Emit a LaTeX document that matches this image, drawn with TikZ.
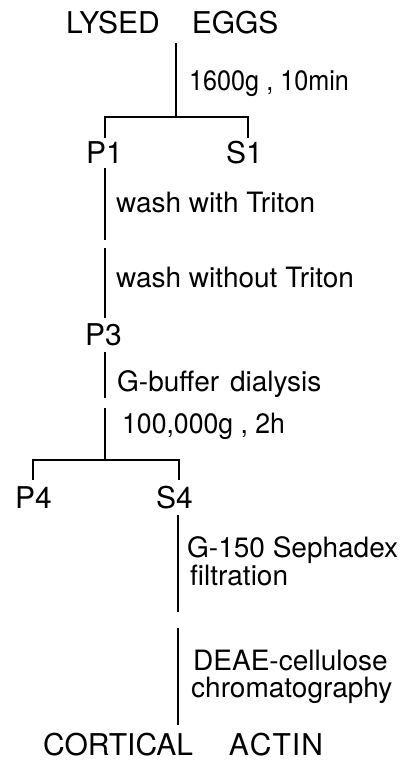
\documentclass[tikz,border=0pt]{standalone}
\usepackage{fontspec}
\setmainfont{TeX Gyre Heros}
\begin{document}
\begin{tikzpicture}[x=1pt,y=1pt,
  big/.style={inner sep=0pt,anchor=base west,font=\fontsize{30}{30}\selectfont},
  lab/.style={inner sep=0pt,anchor=base west,font=\fontsize{28}{28}\selectfont},
  ln/.style={line width=1.2pt}]
\useasboundingbox (0,0) rectangle (399,-763);
% nodes
\node[big] (eggs) at (66,-33) {LYSED\hspace{32pt}EGGS};
\node[big] (p1) at (86,-163) {P1};
\node[big] (s1) at (226,-163) {S1};
\node[big] (p3) at (85,-345) {P3};
\node[big] (p4) at (15,-508) {P4};
\node[big] (s4) at (156,-508) {S4};
\node[big] (actin) at (43,-755) {CORTICAL\hspace{36pt}A\kern1ptC\kern1ptT\kern1ptI\kern1ptN};
% labels
\node[lab] (l1) at (189,-90) {\scalebox{0.9}[1]{1600g , 10min}};
\node[lab] (l2) at (116,-212) {wash with Triton};
\node[lab] (l3) at (116,-287) {wash without Triton};
\node[lab] (l4) at (117,-391) {G-buffer\hspace{3pt} dialysis};
\node[lab] (l5) at (122,-433) {\scalebox{0.95}[1]{100,000g , 2h}};
\node[lab] (l6) at (187,-557) {G-150 Sephadex};
\node[lab] (l7) at (190,-585) {filtration};
\node[lab] (l8) at (193,-670) {DEAE-cellulose};
\node[lab] (l9) at (191,-697) {chromatography};
% coordinates
\coordinate (a0) at (176,-43);
\coordinate (a1) at (176,-117);
\coordinate (b1) at (105,-117);
\coordinate (b2) at (248,-117);
\coordinate (b1d) at (105,-138);
\coordinate (b2d) at (248,-138);
\coordinate (c0) at (105,-168);
\coordinate (c1) at (105,-240);
\coordinate (c2) at (105,-248);
\coordinate (c3) at (105,-318);
\coordinate (d0) at (105,-352);
\coordinate (d1) at (105,-398);
\coordinate (d2) at (105,-408);
\coordinate (d3) at (105,-460);
\coordinate (e1) at (33,-460);
\coordinate (e2) at (179,-460);
\coordinate (e1d) at (33,-480);
\coordinate (e2d) at (179,-480);
\coordinate (f0) at (178,-515);
\coordinate (f1) at (178,-612);
\coordinate (f2) at (178,-628);
\coordinate (f3) at (178,-725);
% connectors
\draw[ln] (a0) -- (a1);
\draw[ln] (b1d) -- (b1) -- (b2) -- (b2d);
\draw[ln] (c0) -- (c1);
\draw[ln] (c2) -- (c3);
\draw[ln] (d0) -- (d1);
\draw[ln] (d2) -- (d3);
\draw[ln] (e1d) -- (e1) -- (e2) -- (e2d);
\draw[ln] (f0) -- (f1);
\draw[ln] (f2) -- (f3);
\end{tikzpicture}
\end{document}
